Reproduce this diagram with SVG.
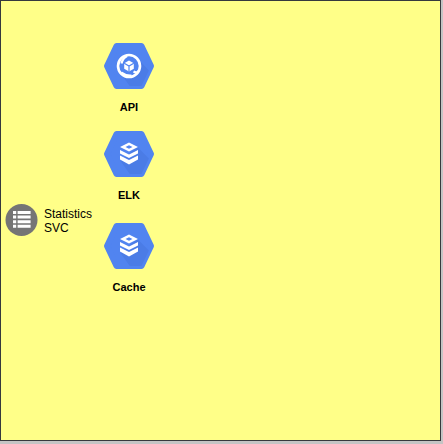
<svg xmlns="http://www.w3.org/2000/svg" width="443" height="444" viewBox="0 0 443 444">
<style>
.lb{font:bold 11px "Liberation Sans",Arial,sans-serif;text-anchor:middle;fill:#000}
.tx{font:12px "Liberation Sans",Arial,sans-serif;fill:#000}
.hex{fill:#5184f0;stroke:#5184f0;stroke-width:6;stroke-linejoin:round}
.shade{fill:#4b7ce6}
.w{fill:#fff}
</style>
<defs>
<path id="hexshape" d="M-12.5 -20H12.5L22 0L12.5 20H-12.5L-22 0Z"/>
<clipPath id="hexclip"><path d="M-12.5 -20H12.5L22 0L12.5 20H-12.5L-22 0Z"/></clipPath>
<g id="stack">
<path class="shade" clip-path="url(#hexclip)" d="M-8.5 7L8.5 -7L30 15L15 30H8Z"/>
<path class="w" fill-rule="evenodd" d="M0 -11.5L9 -7L0 -2.5L-9 -7ZM0 -8.8L-3.5 -7L0 -5.2L3.5 -7Z"/>
<path class="w" d="M-9 -4L0 0.5L9 -4V-0.5L0 4L-9 -0.5Z"/>
<path class="w" d="M-9 1.5L0 6L9 1.5V5.5L0 10.5L-9 5.5Z"/>
</g>
</defs>
<rect x="0" y="0" width="443" height="444" fill="#c4c4c4"/>
<rect x="0.5" y="0.5" width="440" height="440" fill="#ffff88" stroke="#36393d"/>
<g id="api">
<g transform="translate(129 66)">
<use href="#hexshape" class="hex"/>
<path class="shade" clip-path="url(#hexclip)" d="M-8 8L8 -8L30 15L15 30H8Z"/>
<circle r="11" fill="#5184f0" stroke="#fff" stroke-width="2.6"/>
<path fill="#fff" d="M0 -5.5L4.8 -2.8V2.8L0 5.5L-4.8 2.8V-2.8Z"/>
<path fill="none" stroke="#5184f0" stroke-width="1.2" d="M-4.8 -2.8L0 0L4.8 -2.8M0 0V5.5"/>
<path fill="none" stroke="#fff" stroke-width="2.2" d="M-2 -10Q-6.5 -7.5 -7.5 -2.5M9.8 4Q8.5 8 4.5 5.5M-7.5 6.5Q-3 10 2.5 9.5"/>
</g>
<text class="lb" x="129" y="111">API</text>
</g>
<g id="elk">
<g transform="translate(129 154)"><use href="#hexshape" class="hex"/><use href="#stack"/></g>
<text class="lb" x="129" y="199">ELK</text>
</g>
<g id="cache">
<g transform="translate(129 246)"><use href="#hexshape" class="hex"/><use href="#stack"/></g>
<text class="lb" x="129" y="291">Cache</text>
</g>
<g id="statistics-svc">
<circle cx="21.5" cy="220" r="16" fill="#757575"/>
<path fill="#fff" d="M13 211h3.2v3h-3.2zM17.6 211h13v3h-13zM13 215.6h3.2v3h-3.2zM17.6 215.6h13v3h-13zM13 220.2h3.2v3h-3.2zM17.6 220.2h13v3h-13zM13 224.8h3.2v3h-3.2zM17.6 224.8h13v3h-13z"/>
<text class="tx" x="44" y="218">Statistics</text>
<text class="tx" x="44" y="232">SVC</text>
</g>
<g id="connectors"/>
</svg>
